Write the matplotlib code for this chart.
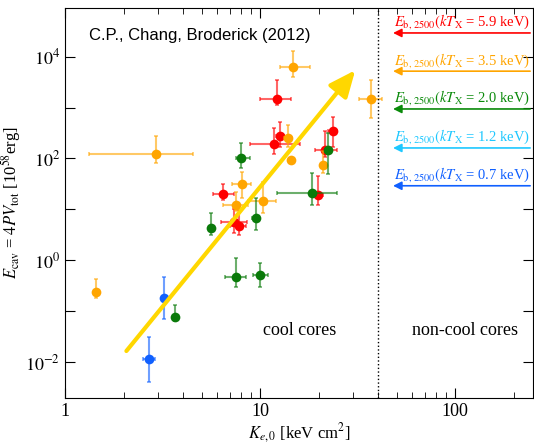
import numpy as np
import matplotlib
matplotlib.use("Agg")
import matplotlib.pyplot as plt
from matplotlib.ticker import FixedLocator, FuncFormatter, LogLocator, NullLocator

plt.rcParams['font.family'] = 'serif'
plt.rcParams['font.serif'] = ['Liberation Serif', 'DejaVu Serif']
plt.rcParams['mathtext.fontset'] = 'stix'

# data: x, y, then absolute error bounds (lo, hi)
red_x = [12.2, 11.7, 12.7, 23.7, 21.5, 6.46, 19.8, 7.36, 7.74]
red_y = [1500, 190, 280, 340, 150, 19.7, 18.8, 5.6, 4.7]
red_xlo = [10.0, 8.9, 12.1, 22.3, 19.0, 5.7, 18.9, 6.3, 7.0]
red_xhi = [14.4, 16.0, 13.3, 24.8, 24.8, 7.3, 21.0, 8.6, 8.5]
red_ylo = [1100, 125, 165, 165, 105, 15, 12, 3.5, 3.1]
red_yhi = [3400, 390, 510, 640, 350, 31, 46, 10.4, 9.6]

orange_x = [14.8, 2.93, 13.9, 14.3, 8.1, 21.0, 7.5, 10.3, 1.44, 37.0]
orange_y = [6300, 125, 247, 95, 31, 76, 12, 14.4, 0.236, 1440]
orange_xlo = [12.6, 1.33, 13.3, 14.0, 7.2, 20.5, 6.45, 8.7, 1.42, 32.0]
orange_xhi = [17.9, 4.5, 14.5, 14.6, 9.0, 21.5, 8.7, 12.1, 1.46, 42.0]
orange_ylo = [4000, 83, 165, 90, 17, 53, 9.5, 8.4, 0.18, 610]
orange_yhi = [13000, 280, 460, 100, 55, 143, 21.6, 34, 0.44, 3500]

green_x = [8.0, 22.3, 18.5, 9.5, 5.6, 7.5, 10.0, 3.66]
green_y = [100, 150, 20.6, 6.8, 4.4, 0.47, 0.52, 0.079]
green_xlo = [7.5, 21.5, 12.2, 9.1, 5.5, 6.6, 9.2, 3.6]
green_xhi = [8.9, 23.0, 24.8, 9.9, 5.7, 8.5, 10.9, 3.7]
green_ylo = [66, 50, 12, 3.9, 3.1, 0.3, 0.3, 0.065]
green_yhi = [205, 310, 51, 16.4, 8.4, 1.1, 0.9, 0.13]

blue_x = [3.23, 2.7]
blue_y = [0.18, 0.0118]
blue_xlo = [3.2, 2.5]
blue_xhi = [3.26, 2.9]
blue_ylo = [0.072, 0.0041]
blue_yhi = [0.47, 0.031]

trend_start = (2.06, 0.0166)
trend_end = (30.7, 5400)
cc_boundary = 40

legend_labels = ['5.9', '3.5', '2.0', '1.2', '0.7']
legend_colors = ['#ff0000', '#ffa500', '#0a8a0a', '#1ec8ff', '#1060ff']

series = [
    (red_x, red_y, red_xlo, red_xhi, red_ylo, red_yhi, '#ff0000'),
    (orange_x, orange_y, orange_xlo, orange_xhi, orange_ylo, orange_yhi, '#ffa500'),
    (green_x, green_y, green_xlo, green_xhi, green_ylo, green_yhi, '#0a7a0a'),
    (blue_x, blue_y, blue_xlo, blue_xhi, blue_ylo, blue_yhi, '#1060ff'),
]

fig = plt.figure(figsize=(5.34, 4.45), dpi=100)
ax = fig.add_axes([0.122, 0.106, 0.876, 0.876])

for x, y, xlo, xhi, ylo, yhi, c in series:
    x = np.array(x); y = np.array(y)
    xerr = [x - np.array(xlo), np.array(xhi) - x]
    yerr = [y - np.array(ylo), np.array(yhi) - y]
    ax.errorbar(x, y, xerr=xerr, yerr=yerr, fmt='none', ecolor=c, alpha=0.6,
                elinewidth=1.5, capsize=1.5, capthick=1.2)
    ax.plot(x, y, 'o', color=c, ms=7, mec='none')

ax.annotate('', xy=trend_end, xytext=trend_start,
            arrowprops=dict(arrowstyle='-|>,head_length=1.6,head_width=0.7',
                            color='#ffd700', lw=3, shrinkA=0, shrinkB=0))

ax.axvline(cc_boundary, color='k', ls=':', lw=1)

ax.set_xscale('log')
ax.set_yscale('log')
ax.set_xlim(1, 250)
ax.set_ylim(0.002, 9e4)

ax.xaxis.set_major_locator(FixedLocator([1, 10, 100]))
ax.xaxis.set_minor_locator(LogLocator(base=10, subs=np.arange(2, 10)))
ax.xaxis.set_major_formatter(FuncFormatter(lambda v, p: '%d' % v))
ax.yaxis.set_major_locator(FixedLocator([10.0**k for k in range(-2, 5)]))
ax.yaxis.set_minor_locator(NullLocator())
ax.yaxis.set_major_formatter(FuncFormatter(
    lambda v, p: r'$10^{%d}$' % round(np.log10(v)) if round(np.log10(v)) % 2 == 0 else ''))

ax.tick_params(which='both', direction='in', top=True, right=True, labelsize=13)
ax.tick_params(which='major', length=7)
ax.tick_params(which='minor', length=4)

ax.set_xlabel(r'$K_{e,0}$ [keV cm$^2$]', fontsize=12, labelpad=1)
ax.set_ylabel(r'$E_{\rm cav}$ = $4PV_{\rm tot}$ [10$^{58}$erg]', fontsize=12, labelpad=2)

ax.text(0.05, 0.93, 'C.P., Chang, Broderick (2012)', transform=ax.transAxes,
        family='Liberation Sans', fontsize=12, va='center', ha='left')
ax.text(16, 0.042, 'cool cores', fontsize=13, ha='center', va='center')
ax.text(112, 0.042, 'non-cool cores', fontsize=13, ha='center', va='center')

ys = [0.936, 0.838, 0.741, 0.641, 0.544]
for lab, c, yy in zip(legend_labels, legend_colors, ys):
    ax.annotate('', xy=(0.701, yy), xytext=(0.994, yy), xycoords='axes fraction',
                arrowprops=dict(arrowstyle='-|>,head_length=0.5,head_width=0.25',
                                color=c, lw=1.2, shrinkA=0, shrinkB=0))
    ax.text(0.994, yy + 0.004,
            r'$E_{\rm b,\,2500}(kT_{\rm X}$ = %s keV)' % lab,
            transform=ax.transAxes, color=c, fontsize=10.5, ha='right', va='bottom')

fig.savefig('out.png', dpi=100)
